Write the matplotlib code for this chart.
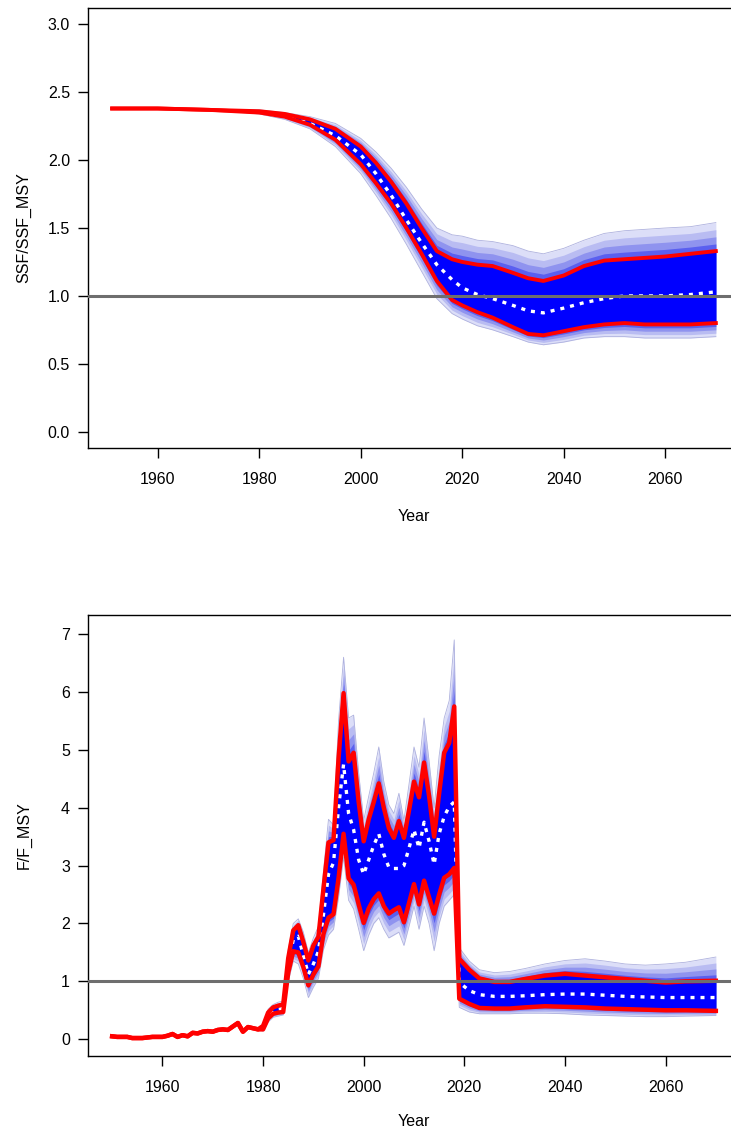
import matplotlib
matplotlib.use("Agg")
import matplotlib.pyplot as plt
import numpy as np

plt.rcParams['font.family'] = ['Liberation Sans', 'DejaVu Sans']

# ---- SSF/SSF_MSY (top panel) ----
ssf_years = [1951, 1960, 1970, 1980, 1985, 1990, 1995, 2000, 2003, 2006, 2009,
             2012, 2015, 2018, 2020, 2023, 2026, 2030, 2033, 2036, 2040, 2044,
             2048, 2052, 2056, 2060, 2065, 2070]
ssf_med = [2.38, 2.38, 2.37, 2.35, 2.32, 2.27, 2.18, 2.04, 1.90, 1.74, 1.56,
           1.39, 1.23, 1.12, 1.06, 1.01, 0.98, 0.93, 0.89, 0.875, 0.91, 0.95,
           0.98, 1.00, 1.00, 1.00, 1.01, 1.03]
ssf_upper = [2.38, 2.38, 2.37, 2.36, 2.34, 2.30, 2.23, 2.10, 1.98, 1.84, 1.68,
             1.50, 1.33, 1.27, 1.25, 1.23, 1.22, 1.17, 1.13, 1.11, 1.15, 1.22,
             1.26, 1.27, 1.28, 1.29, 1.31, 1.33]
ssf_lower = [2.38, 2.38, 2.37, 2.35, 2.32, 2.26, 2.15, 1.97, 1.83, 1.68, 1.50,
             1.31, 1.11, 0.97, 0.93, 0.88, 0.84, 0.77, 0.72, 0.71, 0.74, 0.77,
             0.79, 0.80, 0.79, 0.79, 0.79, 0.80]
ssf_max = [2.38, 2.38, 2.37, 2.37, 2.35, 2.32, 2.27, 2.16, 2.06, 1.94, 1.80,
           1.64, 1.50, 1.45, 1.44, 1.41, 1.40, 1.37, 1.33, 1.31, 1.35, 1.41,
           1.46, 1.48, 1.49, 1.50, 1.51, 1.54]
ssf_min = [2.38, 2.38, 2.37, 2.34, 2.30, 2.23, 2.10, 1.90, 1.74, 1.57, 1.38,
           1.18, 0.98, 0.87, 0.83, 0.78, 0.75, 0.70, 0.66, 0.64, 0.66, 0.69,
           0.70, 0.70, 0.69, 0.69, 0.69, 0.70]

# ---- F/F_MSY (bottom panel) ----
# 1950-1979: all runs practically identical
f_early_years = list(range(1950, 1980))
f_early = [0.05, 0.04, 0.04, 0.04, 0.02, 0.02, 0.02, 0.03, 0.04, 0.04,
           0.04, 0.06, 0.09, 0.04, 0.07, 0.05, 0.11, 0.10, 0.13, 0.14,
           0.13, 0.16, 0.17, 0.16, 0.22, 0.28, 0.13, 0.21, 0.19, 0.17]

f_hist_years = list(range(1980, 2019))
f_hist_upper = [0.23, 0.46, 0.55, 0.58, 0.60, 1.40, 1.88, 1.97, 1.68, 1.36,
                1.62, 1.77, 2.60, 3.40, 3.44, 4.85, 5.98, 4.80, 4.95, 4.10,
                3.42, 3.80, 4.10, 4.42, 4.00, 3.65, 3.48, 3.77, 3.48, 3.95,
                4.45, 4.18, 4.78, 4.20, 3.50, 4.25, 4.95, 5.12, 5.75]
f_hist_med = [0.20, 0.41, 0.49, 0.52, 0.53, 1.28, 1.72, 1.78, 1.45, 1.12,
              1.30, 1.52, 2.15, 2.85, 3.05, 4.00, 4.75, 3.90, 3.62, 3.10,
              2.85, 3.10, 3.35, 3.55, 3.20, 2.97, 2.95, 2.95, 3.00, 3.30,
              3.62, 3.30, 3.75, 3.42, 3.02, 3.55, 3.85, 4.02, 4.10]
f_hist_lower = [0.17, 0.36, 0.44, 0.46, 0.47, 1.15, 1.52, 1.50, 1.25, 0.93,
                1.12, 1.26, 1.82, 2.10, 2.16, 2.78, 3.55, 2.78, 2.67, 2.33,
                2.01, 2.26, 2.42, 2.52, 2.30, 2.17, 2.23, 2.28, 2.02, 2.35,
                2.68, 2.33, 2.74, 2.45, 2.17, 2.50, 2.79, 2.85, 2.96]
f_hist_max = [0.26, 0.52, 0.60, 0.64, 0.66, 1.55, 2.00, 2.08, 1.85, 1.50,
              1.75, 1.95, 2.90, 3.80, 3.70, 5.50, 6.60, 5.55, 5.60, 4.60,
              3.78, 4.20, 4.60, 5.05, 4.45, 4.05, 3.90, 4.25, 3.78, 4.40,
              5.05, 4.70, 5.55, 4.80, 4.00, 4.90, 5.55, 5.85, 6.90]
f_hist_min = [0.14, 0.30, 0.38, 0.40, 0.42, 1.00, 1.35, 1.30, 1.05, 0.72,
              0.90, 1.05, 1.55, 1.80, 1.90, 2.45, 3.15, 2.40, 2.25, 1.90,
              1.53, 1.80, 2.00, 2.10, 1.90, 1.75, 1.80, 1.85, 1.62, 1.95,
              2.30, 1.90, 2.30, 2.00, 1.53, 2.00, 2.30, 2.40, 2.50]

f_proj_years = [2019, 2021, 2023, 2026, 2029, 2032, 2036, 2040, 2044, 2048,
                2052, 2056, 2060, 2064, 2070]
f_proj_upper = [1.39, 1.20, 1.05, 0.99, 0.99, 1.04, 1.10, 1.13, 1.10, 1.07,
                1.04, 1.01, 0.98, 1.00, 1.01]
f_proj_med = [0.98, 0.84, 0.77, 0.74, 0.74, 0.75, 0.77, 0.78, 0.78, 0.76,
              0.74, 0.73, 0.72, 0.72, 0.72]
f_proj_lower = [0.70, 0.61, 0.54, 0.53, 0.53, 0.55, 0.57, 0.56, 0.55, 0.53,
                0.52, 0.51, 0.50, 0.50, 0.49]
f_proj_max = [1.58, 1.35, 1.20, 1.15, 1.17, 1.22, 1.30, 1.36, 1.39, 1.35,
              1.30, 1.28, 1.30, 1.33, 1.42]
f_proj_min = [0.55, 0.47, 0.44, 0.44, 0.44, 0.45, 0.45, 0.44, 0.42, 0.41,
              0.40, 0.39, 0.39, 0.40, 0.41]

f_years = f_early_years + f_hist_years + f_proj_years
f_upper = f_early + f_hist_upper + f_proj_upper
f_med = f_early + f_hist_med + f_proj_med
f_lower = f_early + f_hist_lower + f_proj_lower
f_max = f_early + f_hist_max + f_proj_max
f_min = f_early + f_hist_min + f_proj_min


def draw_panel(ax, years, lo_env, hi_env, lower, upper, med, red_lw):
    lo_env, hi_env = np.asarray(lo_env), np.asarray(hi_env)
    lower, upper = np.asarray(lower), np.asarray(upper)
    # faint spaghetti region: density fading away from the quantile band
    ax.fill_between(years, lo_env, hi_env, color='#dcdef8', lw=0, zorder=1)
    for t, c in [(0.75, '#b9bcf2'), (0.5, '#8f93ef'), (0.25, '#5a5ff0')]:
        ax.fill_between(years, lower - t * (lower - lo_env),
                        upper + t * (hi_env - upper), color=c, lw=0, zorder=1.2)
    ax.plot(years, hi_env, color='#aeb1de', lw=0.6, zorder=1.5)
    ax.plot(years, lo_env, color='#aeb1de', lw=0.6, zorder=1.5)
    ax.fill_between(years, lower, upper, color='#0000ff', lw=0, zorder=2)
    ax.plot(years, med, color='white', lw=2.4, dashes=(1.2, 1.8), zorder=3)
    ax.plot(years, upper, color='#ff0000', lw=red_lw, zorder=4,
            solid_joinstyle='round')
    ax.plot(years, lower, color='#ff0000', lw=red_lw, zorder=4,
            solid_joinstyle='round')
    ax.axhline(1.0, color='#6e6e6e', lw=2.2, zorder=5)
    for s in ax.spines.values():
        s.set_linewidth(1.0)
    ax.tick_params(direction='out', length=7, width=1.0, labelsize=11.5,
                   top=False, right=False)
    ax.tick_params(axis='x', pad=10)
    ax.tick_params(axis='y', pad=6)
    ax.set_xticks([1960, 1980, 2000, 2020, 2040, 2060])


fig = plt.figure(figsize=(7.31, 11.35), dpi=100)

ax1 = fig.add_axes([88 / 731, 1 - 448 / 1135, 652 / 731, 440 / 1135])
draw_panel(ax1, ssf_years, ssf_min, ssf_max, ssf_lower, ssf_upper, ssf_med, 2.8)
ax1.set_xlim(1946.24, 2074.76)
ax1.set_ylim(-0.12, 3.12)
ax1.set_yticks([0.0, 0.5, 1.0, 1.5, 2.0, 2.5, 3.0])
ax1.set_yticklabels(['0.0', '0.5', '1.0', '1.5', '2.0', '2.5', '3.0'])
fig.text(24 / 731, 1 - 228 / 1135, 'SSF/SSF_MSY', rotation=90, ha='center',
         va='center', fontsize=11.5)
fig.text(414 / 731, 1 - 517 / 1135, 'Year', ha='center', va='center',
         fontsize=11.5)

ax2 = fig.add_axes([88 / 731, 1 - 1056 / 1135, 652 / 731, 441 / 1135])
draw_panel(ax2, f_years, f_min, f_max, f_lower, f_upper, f_med, 3.2)
ax2.set_xlim(1945.2, 2074.8)
ax2.set_ylim(-0.29, 7.33)
ax2.set_yticks(range(0, 8))
fig.text(24 / 731, 1 - 835 / 1135, 'F/F_MSY', rotation=90, ha='center',
         va='center', fontsize=11.5)
fig.text(414 / 731, 1 - 1122 / 1135, 'Year', ha='center', va='center',
         fontsize=11.5)

fig.savefig('out.png', dpi=100)
